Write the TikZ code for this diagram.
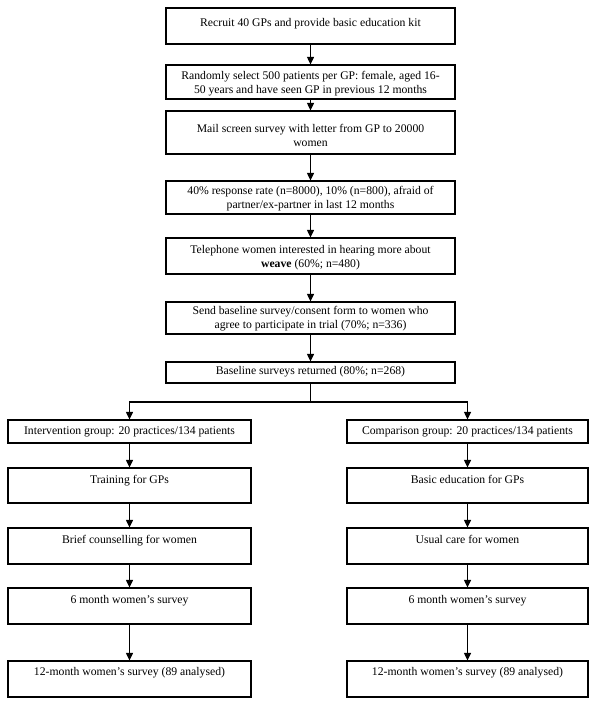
\documentclass[tikz,border=0pt]{standalone}
\usepackage{fontspec}
\setmainfont{Liberation Serif}
\usetikzlibrary{arrows.meta}
\begin{document}
\begin{tikzpicture}[x=1pt,y=-1pt,
  box/.style={draw, line width=1.25pt, inner sep=0pt},
  tx/.style={anchor=north, inner sep=0pt, align=center, font=\fontsize{11.7}{13.5}\selectfont},
  arr/.style={line width=1.25pt, -{Triangle[length=7.5pt,width=7pt]}},
  ln/.style={line width=1.25pt}]
\useasboundingbox (0,0) rectangle (600,710);
% main column
\node[box, minimum width=289pt, minimum height=36pt] (b1) at (310.5,26) {};
\node[box, minimum width=289pt, minimum height=34pt] (b2) at (310.5,82) {};
\node[box, minimum width=289pt, minimum height=43pt] (b3) at (310.5,132.5) {};
\node[box, minimum width=289pt, minimum height=33pt] (b4) at (310.5,197.5) {};
\node[box, minimum width=289pt, minimum height=36pt] (b5) at (310.5,256) {};
\node[box, minimum width=289pt, minimum height=32pt] (b6) at (310.5,318) {};
\node[box, minimum width=289pt, minimum height=21pt] (b7) at (310.5,372.5) {};
\node[tx] (t1) at (310.5,16.45) {\strut Recruit 40 GPs and provide basic education kit};
\node[tx] (t2) at (310.5,70.15) {\strut Randomly select 500 patients per GP: female, aged 16-\\50 years and have seen GP in previous 12 months};
\node[tx] (t3) at (310.5,123.15) {\strut Mail screen survey with letter from GP to 20000\\women};
\node[tx] (t4) at (310.5,185.15) {\strut 40\% response rate (n=8000), 10\% (n=800), afraid of\\partner/ex-partner in last 12 months};
\node[tx] (t5) at (310.5,244.15) {\strut Telephone women interested in hearing more about\\\textbf{weave} (60\%; n=480)};
\node[tx] (t6) at (310.5,305.15) {\strut Send baseline survey/consent form to women who\\agree to participate in trial (70\%; n=336)};
\node[tx] (t7) at (310.5,365.15) {\strut Baseline surveys returned (80\%; n=268)};
% left column
\node[box, minimum width=243pt, minimum height=23pt] (l1) at (129.5,431.5) {};
\node[box, minimum width=243pt, minimum height=35pt] (l2) at (129.5,485.5) {};
\node[box, minimum width=243pt, minimum height=36pt] (l3) at (129.5,546) {};
\node[box, minimum width=243pt, minimum height=36pt] (l4) at (129.5,606) {};
\node[box, minimum width=243pt, minimum height=36pt] (l5) at (129.5,679) {};
\node[tx] (lt1) at (129.5,425.15) {\strut Intervention group: 20 practices/134 patients};
\node[tx] (lt2) at (129.5,474.15) {\strut Training for GPs};
\node[tx] (lt3) at (129.5,534.15) {\strut Brief counselling for women};
\node[tx] (lt4) at (129.5,594.15) {\strut 6 month women’s survey};
\node[tx] (lt5) at (129.5,666.15) {\strut 12-month women’s survey (89 analysed)};
% right column
\node[box, minimum width=241pt, minimum height=23pt] (r1) at (467.5,431.5) {};
\node[box, minimum width=241pt, minimum height=35pt] (r2) at (467.5,485.5) {};
\node[box, minimum width=241pt, minimum height=36pt] (r3) at (467.5,546) {};
\node[box, minimum width=241pt, minimum height=36pt] (r4) at (467.5,606) {};
\node[box, minimum width=241pt, minimum height=36pt] (r5) at (467.5,679) {};
\node[tx] (rt1) at (467.5,425.15) {\strut Comparison group: 20 practices/134 patients};
\node[tx] (rt2) at (467.5,474.15) {\strut Basic education for GPs};
\node[tx] (rt3) at (467.5,534.15) {\strut Usual care for women};
\node[tx] (rt4) at (467.5,594.15) {\strut 6 month women’s survey};
\node[tx] (rt5) at (467.5,666.15) {\strut 12-month women’s survey (89 analysed)};
% connectors
\draw[arr] (b1) -- (b2);
\draw[arr] (b2) -- (b3);
\draw[arr] (b3) -- (b4);
\draw[arr] (b4) -- (b5);
\draw[arr] (b5) -- (b6);
\draw[arr] (b6) -- (b7);
\coordinate (j) at (310.5,402);
\draw[ln] (b7.south) -- (j);
\draw[arr] (j) -| (l1.north);
\draw[arr] (j) -| (r1.north);
\draw[arr] (l1) -- (l2);
\draw[arr] (l2) -- (l3);
\draw[arr] (l3) -- (l4);
\draw[arr] (l4) -- (l5);
\draw[arr] (r1) -- (r2);
\draw[arr] (r2) -- (r3);
\draw[arr] (r3) -- (r4);
\draw[arr] (r4) -- (r5);
\end{tikzpicture}
\end{document}
